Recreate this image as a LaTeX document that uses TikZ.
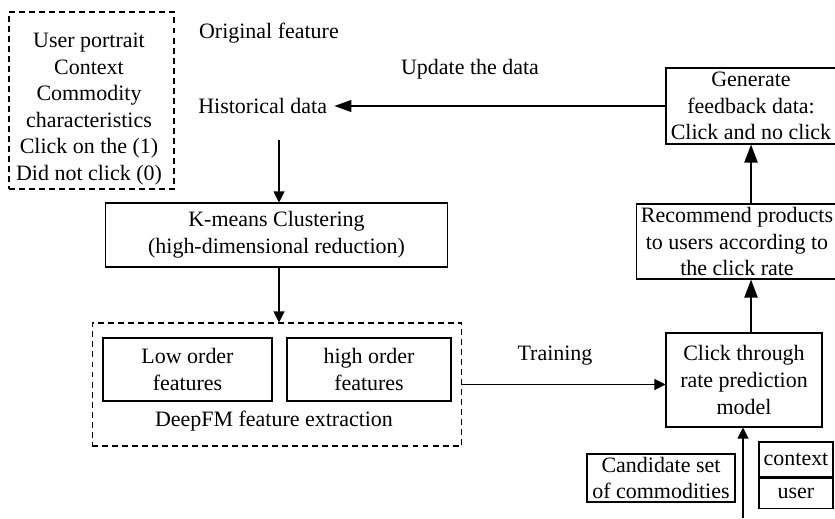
\documentclass[tikz,border=0pt]{standalone}
\usepackage{fontspec}
\setmainfont{Liberation Serif}
\usetikzlibrary{arrows.meta}
\tikzset{box/.style={draw, line width=0.6pt, align=center, inner sep=0pt,
 font=\fontsize{12.5}{15.1}\selectfont},
 dashbox/.style={box, dash pattern=on 3.4pt off 2.3pt},
 txt/.style={font=\fontsize{12.5}{15.1}\selectfont, align=center, inner sep=1pt},
 arr/.style={line width=0.6pt, -{Triangle[length=0.22cm, width=0.22cm]}},
 bigarr/.style={line width=1.2pt, -{Triangle[length=0.36cm, width=0.26cm]}}
}

\begin{document}
\begin{tikzpicture}[x=0.02cm, y=-0.02cm]
\useasboundingbox (0,0) rectangle (835,518);

% raw data and labels
\node [dashbox, minimum width=3.3cm, minimum height=3.54cm] (raw) at (91.5,100.5) {};
\node [txt] (rawtext) at (89,109)
  {User portrait\\Context\\Commodity\\characteristics\\Click on the (1)\\Did not click (0)};
\node [txt, anchor=west] (orig) at (197,33) {Original feature};
\node [txt, anchor=west, inner sep=4pt] (hist) at (191,106) {Historical data};
\node [txt] (update) at (470,69) {Update the data};

% clustering and DeepFM
\node [box, minimum width=6.86cm, minimum height=1.28cm] (kmeans) at (276.5,235)
  {K-means Clustering\\(high-dimensional reduction)};
\node [dashbox, minimum width=7.4cm, minimum height=2.46cm] (deepfm) at (277,384.5) {};
\node [box, minimum width=3.38cm, minimum height=1.26cm] (low) at (187.5,369.5) {Low order\\features};
\node [box, minimum width=3.28cm, minimum height=1.26cm] (high) at (369,369.5) {high order\\features};
\node [txt] (deepfmtext) at (274,421) {DeepFM feature extraction};

% model and feedback loop
\node [box, minimum width=3.12cm, minimum height=1.88cm] (ctr) at (744,380)
  {Click through\\rate prediction\\model};
\node [box, minimum width=4.04cm, minimum height=1.5cm] (rec) at (737,241.5)
  {Recommend products\\to users according to\\the click rate};
\node [box, minimum width=3.4cm, minimum height=1.52cm] (gen) at (751,106)
  {Generate\\feedback data:\\Click and no click};
\node [txt] (train) at (555,356) {Training};

% online inputs
\node [box, minimum width=2.96cm, minimum height=0.96cm] (cand) at (661,478)
  {Candidate set\\of commodities};
\node [box, minimum width=1.48cm, minimum height=0.7cm] (ctx) at (796,459.5) {context};
\node [box, minimum width=1.48cm, minimum height=0.6cm, anchor=north] (user) at (ctx.south) {user};

\coordinate (histout) at (279,140);
\coordinate (feedin) at (743,518);

\draw [arr] (histout) -- (histout |- kmeans.north);
\draw [arr] (kmeans.south -| histout) -- (histout |- deepfm.north);
\draw [arr] (deepfm.east) -- (deepfm.east -| ctr.west);
\draw [arr] (feedin) -- (feedin |- ctr.south);
\draw [bigarr] ([xshift=4pt]ctr.north) -- ([xshift=4pt]ctr.north |- rec.south);
\draw [bigarr] ([xshift=4pt]ctr.north |- rec.north) -- ([xshift=4pt]ctr.north |- gen.south);
\draw [line width=0.6pt, -{Triangle[length=0.34cm, width=0.24cm]}] (gen.west) -- (hist.east);
\end{tikzpicture}
\end{document}
